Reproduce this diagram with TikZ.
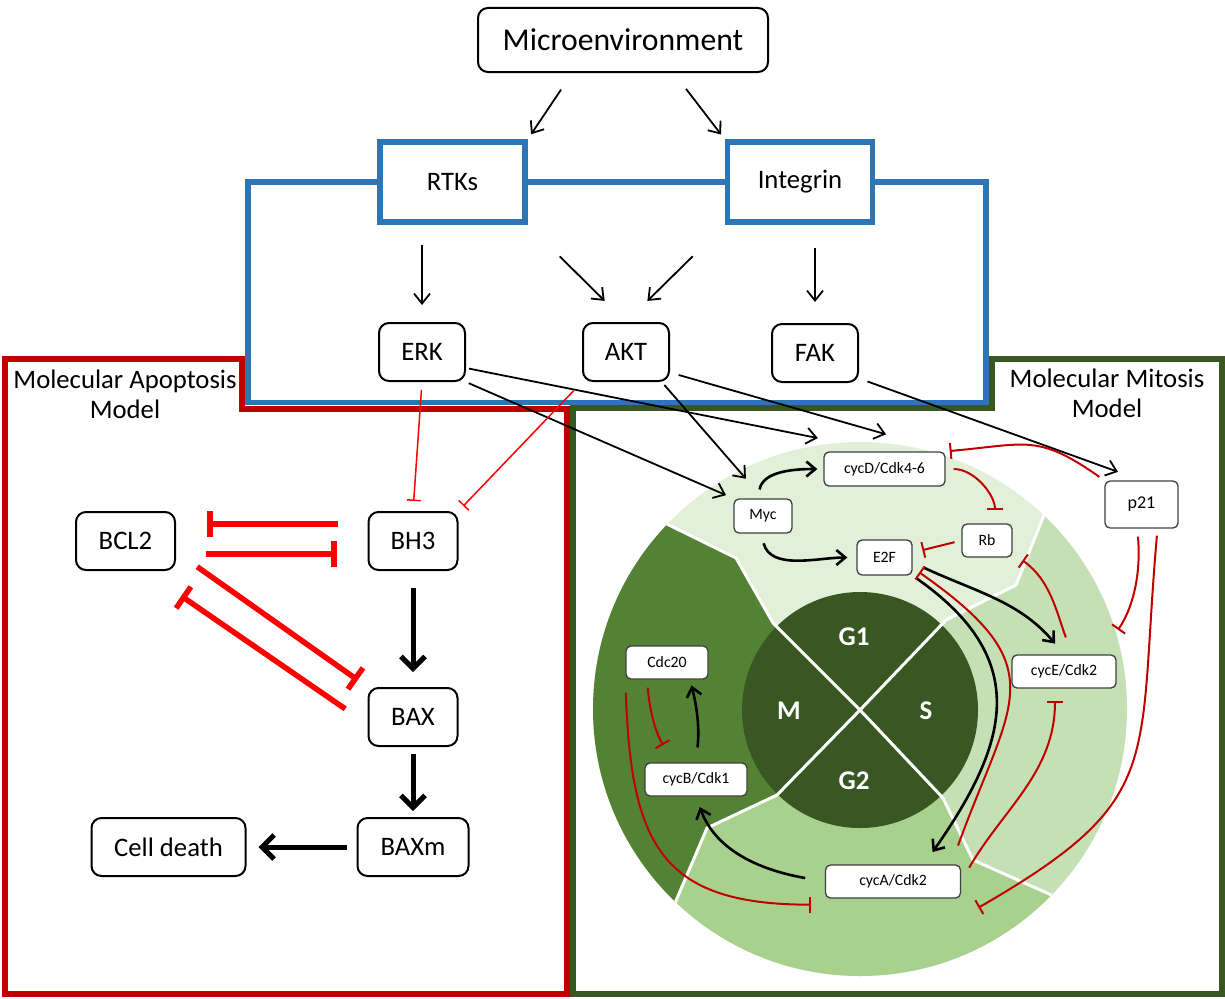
\documentclass[tikz,border=0pt]{standalone}
\usepackage{fontspec}
\setmainfont{Carlito}
\usetikzlibrary{arrows.meta,positioning}
\definecolor{rtkblue}{RGB}{46,117,182}
\definecolor{apored}{RGB}{192,0,0}
\definecolor{inhred}{RGB}{255,0,0}
\definecolor{mitgreen}{RGB}{56,87,35}
\definecolor{g1col}{RGB}{226,240,217}
\definecolor{scol}{RGB}{197,224,180}
\definecolor{g2col}{RGB}{169,209,142}
\definecolor{mcol}{RGB}{84,130,53}
\definecolor{boxgray}{RGB}{64,64,64}

\begin{document}
\begin{tikzpicture}[x=1pt,y=-1pt,>={Straight Barb[length=10pt,width=16pt]},on grid]
\tikzstyle{box} = [draw=black,line width=2pt,rounded corners=10pt,fill=white,minimum height=58pt,font=\fontsize{26.7}{30}\selectfont]
\tikzstyle{rtk} = [draw=rtkblue,line width=5.5pt,fill=white,minimum width=145pt,minimum height=80pt,font=\fontsize{26.7}{30}\selectfont]
\tikzstyle{cell} = [draw=boxgray,line width=1.3pt,rounded corners=5pt,fill=white,minimum height=33pt,font=\fontsize{15.8}{18}\selectfont]
\tikzstyle{phase} = [text=white,font=\fontsize{27}{30}\selectfont\bfseries]
\tikzstyle{lbl} = [align=center,font=\fontsize{26.7}{30}\selectfont]
\tikzset{act/.style={->,line width=1.8pt}}
\tikzset{bigact/.style={-{Straight Barb[length=12pt,width=24pt]},line width=5pt}}
\tikzset{cellact/.style={-{Straight Barb[length=9pt,width=15pt]},line width=2.6pt}}
\tikzset{inh/.style={-{Bar[width=14pt]},draw=inhred,line width=1.5pt}}
\tikzset{biginh/.style={-{Bar[width=26pt]},draw=inhred,line width=5.5pt}}
\tikzset{cellinh/.style={-{Bar[width=16pt]},draw=apored,line width=2pt}}
\tikzset{ringline/.style={draw=white,line width=3pt}}

\path[fill=white,use as bounding box] (0,0) rectangle (1225,998);

% model frames
\draw[apored,line width=6.5pt] (5,359) -- (242,359) -- (242,409) -- (567,409) -- (567,994) -- (5,994) -- cycle;
\draw[mitgreen,line width=6.5pt] (573,994) -- (573,408) -- (992,408) -- (992,359) -- (1222,359) -- (1222,994) -- cycle;

% cell cycle
\begin{scope}
\clip (860,709) circle (267pt);
\fill[g1col] (860,709) circle (267pt);
\fill[mcol] (860,710) -- (777,795) -- (707,828) -- (675,903) -- (650,962) -- (560,1000) -- (560,470) -- (610,496) -- (673,527) -- (736,558) -- (773,623) -- cycle;
\fill[scol] (860,710) -- (946,620) -- (1016,585) -- (1048,505) -- (1070,450) -- (1160,450) -- (1160,940) -- (1120,926) -- (1047,893) -- (973,860) -- (943,798) -- cycle;
\fill[g2col] (860,710) -- (943,798) -- (973,860) -- (1047,893) -- (1120,926) -- (1160,1000) -- (560,1000) -- (650,962) -- (675,903) -- (707,828) -- (777,795) -- cycle;
\fill[mitgreen] (860,710) circle (118pt);
\draw[ringline] (860,710) -- (773,623) -- (736,558) -- (673,527) -- (610,496);
\draw[ringline] (860,710) -- (946,620) -- (1016,585) -- (1048,505) -- (1070,450);
\draw[ringline] (860,710) -- (943,798) -- (973,860) -- (1047,893) -- (1120,926);
\draw[ringline] (860,710) -- (777,795) -- (707,828) -- (675,903) -- (650,962);
\end{scope}
\node[phase] (g1) at (854,637) {G1};
\node[phase] (s) at (926,711) {S};
\node[phase] (g2) at (854,781) {G2};
\node[phase] (m) at (789,711) {M};

% signalling
\node[box,minimum width=290pt,minimum height=64pt,font=\fontsize{31.7}{36}\selectfont] (micro) at (623,40) {Microenvironment};
\node[rtk] (rtks) at (452.5,182) {RTKs};
\node[rtk] (itg) at (800,182) {Integrin};
\node[box,minimum width=86pt] (erk) at (422,352) {ERK};
\node[box,minimum width=86pt] (akt) at (626,352) {AKT};
\node[box,minimum width=86pt] (fak) at (815,353) {FAK};
\draw[rtkblue,line width=5.5pt] (rtks.west) -- (248,182) -- (248,402.5) -- (986,402.5) -- (986,182) -- (itg.east);
\draw[rtkblue,line width=5.5pt] (rtks.east) -- (itg.west);

% apoptosis
\node[box,minimum width=89pt] (bh3) at (413,541) {BH3};
\node[box,minimum width=99pt] (bcl2) [left=287.5pt of bh3] {BCL2};
\node[box,minimum width=89pt] (bax) [below=176pt of bh3] {BAX};
\node[box,minimum width=111pt] (baxm) [below=130pt of bax] {BAXm};
\node[box,minimum width=154pt] (death) [left=244.5pt of baxm] {Cell death};
\node[lbl] (apolbl) at (125,394) {Molecular Apoptosis\\Model};
\node[lbl] (mitlbl) at (1107,393) {Molecular Mitosis\\Model};

% mitosis
\node[cell,minimum width=121pt,minimum height=34pt] (cycd) at (884.5,469) {cycD/Cdk4-6};
\node[cell,minimum width=58pt,minimum height=34pt] (myc) at (763,516) {Myc};
\node[cell,minimum width=50pt] (rb) at (987,540.5) {Rb};
\node[cell,minimum width=55pt,minimum height=35pt] (e2f) at (884.5,557.5) {E2F};
\node[cell,minimum width=73pt,minimum height=47pt,font=\fontsize{18}{20}\selectfont] (p21) at (1141.5,504.5) {p21};
\node[cell,minimum width=104pt] (cyce) at (1064,671.5) {cycE/Cdk2};
\node[cell,minimum width=82pt] (cdc20) at (667,662.5) {Cdc20};
\node[cell,minimum width=102pt] (cycb) at (696,779.5) {cycB/Cdk1};
\node[cell,minimum width=135pt] (cyca) at (893,881.5) {cycA/Cdk2};

\draw[act,shorten <=20pt,shorten >=6pt] (micro.213) -- (rtks.north east);
\draw[act,shorten <=20pt,shorten >=6pt] (micro.327) -- (itg.north west);
\draw[act,shorten <=20pt,shorten >=17pt] (rtks.south -| erk.north) -- (erk.north);
\draw[act,shorten <=45pt,shorten >=30pt] (rtks.south east) -- (akt.north);
\draw[act,shorten <=45pt,shorten >=30pt] (itg.south west) -- (akt.north);
\draw[act,shorten <=23pt,shorten >=21pt] (itg.south -| fak.north) -- (fak.north);
\draw[act,shorten <=3pt,shorten >=68pt] (erk.-20) -- (cycd.north);
\draw[act,shorten <=3pt,shorten >=8pt] (erk.south east) -- (myc.north west);
\draw[act,shorten <=9pt,shorten >=62pt] (akt.-25) -- (cycd.north east);
\draw[act,shorten <=4pt,shorten >=26pt] (akt.-40) -- (myc.north);
\draw[act,shorten <=9pt,shorten >=25pt] (fak.-30) -- (p21.north);
\draw[inh,shorten <=8pt,shorten >=10pt] (erk.south) -- (bh3.north);
\draw[inh,shorten <=12pt,shorten >=7pt] (akt.south west) -- (bh3.north east);

\draw[biginh,shorten <=30pt,shorten >=31pt] ([yshift=17pt]bh3.west) -- ([yshift=17pt]bcl2.east);
\draw[biginh,shorten <=30pt,shorten >=31pt] ([yshift=-13pt]bcl2.east) -- ([yshift=-13pt]bh3.west);
\draw[biginh,shorten <=26pt,shorten >=12pt] (bcl2.-12) -- (bax.north west);
\draw[biginh,shorten <=27pt,shorten >=44pt] (bax.189) -- (bcl2.303);
\draw[bigact,shorten <=17pt,shorten >=15pt] (bh3.south) -- (bax.north);
\draw[bigact,shorten <=7pt,shorten >=6pt] (bax.south) -- (baxm.north);
\draw[bigact,shorten <=10pt,shorten >=12pt] (baxm.west) -- (death.east);

\draw[cellact,shorten <=9pt,shorten >=6pt] ([xshift=-5pt]myc.north) to[out=80,in=180] (cycd.west);
\draw[cellact,shorten <=10pt,shorten >=9pt] ([xshift=-2pt]myc.south) to[out=-75,in=180] (e2f.west);
\draw[cellact,shorten <=12pt,shorten >=14pt] (e2f.-10) to[out=-25,in=130] (cyce.north);
\draw[cellact,shorten <=5pt,shorten >=15pt] (e2f.south east) to[out=-35,in=55,looseness=1.3] (cyca.29);
\draw[cellact,shorten <=20pt,shorten >=11pt] (cyca.west) to[out=170,in=-70] (cycb.south);
\draw[cellact,shorten <=15pt,shorten >=6pt] (cycb.north) to[bend right=10] ([xshift=23pt]cdc20.south);

\draw[cellinh,shorten <=6pt,shorten >=4pt] (p21.north west) to[out=145,in=5,looseness=1.3] (cycd.north east);
\draw[cellinh,shorten <=8pt,shorten >=13pt] (cycd.east) to[out=0,in=90] ([xshift=8pt]rb.north);
\draw[cellinh,shorten <=7pt,shorten >=10pt] (rb.west) -- (e2f.10);
\draw[cellinh,shorten <=18pt,shorten >=12pt] ([xshift=8pt]cyce.north) to[out=110,in=-35] (rb.-27);
\draw[cellinh,shorten <=8pt,shorten >=30pt] (p21.260) to[out=-85,in=55] (cyce.25);
\draw[cellinh,shorten <=7pt,shorten >=20pt] ([xshift=16pt]p21.south) to[out=-95,in=30,looseness=1.4] ([yshift=-19pt]cyca.south east);
\draw[cellinh,shorten <=20pt,shorten >=8pt] ([xshift=-10pt]cyca.north east) to[out=70,in=-35,looseness=1.5] (e2f.-20);
\draw[cellinh,shorten <=16pt,shorten >=12pt] (cyca.east) to[out=60,in=-90] ([xshift=-9pt]cyce.south);
\draw[cellinh,shorten <=8pt,shorten >=20pt] ([xshift=-20pt]cdc20.south) to[out=-85,in=120] ([xshift=-23pt]cycb.north);
\draw[cellinh,shorten <=13pt,shorten >=14pt] (cdc20.south west) to[out=-88,in=180,looseness=1.4] ([yshift=-6pt]cyca.south west);
\end{tikzpicture}
\end{document}
